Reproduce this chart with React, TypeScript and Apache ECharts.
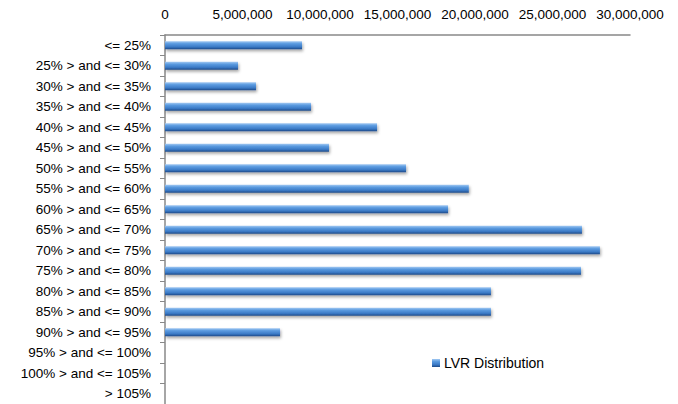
import React, { useEffect, useRef } from "react";
import * as echarts from "echarts";

const categories = [
  "<= 25%",
  "25% > and <= 30%",
  "30% > and <= 35%",
  "35% > and <= 40%",
  "40% > and <= 45%",
  "45% > and <= 50%",
  "50% > and <= 55%",
  "55% > and <= 60%",
  "60% > and <= 65%",
  "65% > and <= 70%",
  "70% > and <= 75%",
  "75% > and <= 80%",
  "80% > and <= 85%",
  "85% > and <= 90%",
  "90% > and <= 95%",
  "95% > and <= 100%",
  "100% > and <= 105%",
  "> 105%",
];

const lvrValues = [
  8840000, 4710000, 5870000, 9420000, 13680000, 10580000, 15550000, 19600000,
  18260000, 26900000, 28060000, 26840000, 21030000, 21030000, 7420000, 0, 0, 0,
];

const seriesName = "LVR Distribution";
const xMin = 0;
const xMax = 30000000;
const xInterval = 5000000;

export default function App() {
  const ref = useRef<HTMLDivElement>(null);
  useEffect(() => {
    if (!ref.current) return;
    const chart = echarts.init(ref.current, undefined, { renderer: "svg" });
    const font = "Liberation Sans, Arial, sans-serif";
    const barColor = new echarts.graphic.LinearGradient(0, 0, 0, 1, [
      { offset: 0, color: "#a3c9f2" },
      { offset: 0.3, color: "#5b9be0" },
      { offset: 0.7, color: "#3b7ac6" },
      { offset: 1, color: "#1d4a88" },
    ]);
    chart.setOption({
      animation: false,
      backgroundColor: "#ffffff",
      textStyle: { fontFamily: font },
      grid: { left: 165, right: 48, top: 35, height: 371, containLabel: false },
      legend: {
        data: [seriesName],
        left: 432,
        top: 356,
        padding: 0,
        icon: "rect",
        itemWidth: 8,
        itemHeight: 8,
        itemGap: 5,
        textStyle: { fontFamily: font, fontSize: 14, color: "#000", padding: [0, 0, 0, -1] },
      },
      xAxis: {
        type: "value",
        position: "top",
        min: xMin,
        max: xMax,
        interval: xInterval,
        axisLine: { show: true, lineStyle: { color: "#888888", width: 1.5 } },
        axisTick: { show: false },
        splitLine: { show: false },
        axisLabel: {
          color: "#000",
          fontSize: 13.5,
          fontFamily: font,
          margin: 14,
          formatter: (v: number) => v.toLocaleString("en-US"),
        },
      },
      yAxis: {
        type: "category",
        inverse: true,
        data: categories,
        axisLine: { show: true, lineStyle: { color: "#888888", width: 1.5 } },
        axisTick: { show: true, length: 5, lineStyle: { color: "#888888" } },
        axisLabel: { color: "#000", fontSize: 13.5, fontFamily: font, margin: 14 },
      },
      series: [
        {
          name: seriesName,
          type: "bar",
          data: lvrValues,
          barWidth: 8,
          itemStyle: {
            color: barColor,
            shadowColor: "rgba(0,0,0,0.35)",
            shadowBlur: 3,
            shadowOffsetX: 1,
            shadowOffsetY: 2,
          },
        },
      ],
    });
    return () => chart.dispose();
  }, []);
  return <div ref={ref} style={{ width: 678, height: 404, position: "absolute", left: 0, top: 0 }} />;
}
